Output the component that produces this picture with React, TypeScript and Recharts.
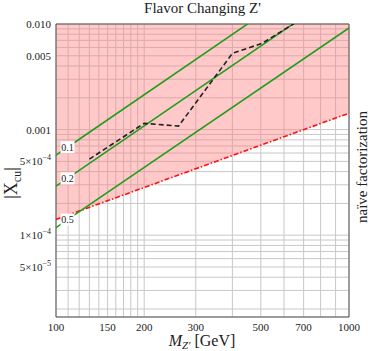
import {
  ComposedChart,
  Line,
  Area,
  XAxis,
  YAxis,
  CartesianGrid,
  ReferenceArea,
  Label,
} from 'recharts'

// grid / tick values (log axes)
const xTicks = [100, 110, 120, 130, 140, 150, 160, 170, 180, 190, 200, 300, 400, 500, 600, 700, 800, 900, 1000]
const xLabeled = [100, 150, 200, 300, 500, 700, 1000]
const yTicks = [
  2e-5, 3e-5, 4e-5, 5e-5, 6e-5, 7e-5, 8e-5, 9e-5,
  1e-4, 2e-4, 3e-4, 4e-4, 5e-4, 6e-4, 7e-4, 8e-4, 9e-4,
  0.001, 0.002, 0.003, 0.004, 0.005, 0.006, 0.007, 0.008, 0.009, 0.01,
]
const yPlain: Record<string, string> = { '0.01': '0.010', '0.005': '0.005', '0.001': '0.001' }
const ySci: Record<string, [string, string]> = { '0.0005': ['5', '−4'], '0.0001': ['1', '−4'], '0.00005': ['5', '−5'] }

const Y_MIN = 1.68e-5
const Y_MAX = 0.01

// naive factorization bound (red) and excluded band above it
const redBound = [
  { m: 100, x: 1.41e-4, band: [1.41e-4, 0.01] },
  { m: 1000, x: 1.43e-3, band: [1.43e-3, 0.01] },
]

// green contours, middle point is where the label sits
const green01 = [{ m: 100, x: 5.73e-4 }, { m: 109.5, x: 6.81e-4 }, { m: 1000, x: 0.0455 }]
const green02 = [{ m: 100, x: 2.91e-4 }, { m: 109.5, x: 3.455e-4 }, { m: 1000, x: 0.0231 }]
const green05 = [{ m: 100, x: 1.18e-4 }, { m: 109.5, x: 1.405e-4 }, { m: 1000, x: 0.00917 }]

// black dashed limit
const blackLimit = [
  { m: 130, x: 5.25e-4 },
  { m: 200, x: 1.146e-3 },
  { m: 262, x: 1.08e-3 },
  { m: 400, x: 5.27e-3 },
  { m: 505, x: 6.56e-3 },
  { m: 650, x: 0.0101 },
]

const FONT = '"Liberation Serif", "DejaVu Serif", serif'
const GREEN = '#1f9e1f'

function XTick(props: any) {
  const { x, y, payload } = props
  if (!xLabeled.includes(payload.value)) return null
  return (
    <text x={x} y={y + 12} textAnchor="middle" fontFamily={FONT} fontSize={11} fill="#222">
      {payload.value}
    </text>
  )
}

function YTick(props: any) {
  const { x, y, payload } = props
  const key = String(payload.value)
  if (yPlain[key]) {
    return (
      <text x={x - 3} y={y + 4} textAnchor="end" fontFamily={FONT} fontSize={11} fill="#222">
        {yPlain[key]}
      </text>
    )
  }
  const sci = ySci[key]
  if (!sci) return null
  return (
    <text x={x - 3} y={y + 4} textAnchor="end" fontFamily={FONT} fontSize={11} fill="#222">
      <tspan>{sci[0]}×10</tspan>
      <tspan dy={-5} fontSize={8}>{sci[1]}</tspan>
    </text>
  )
}

function contourLabel(text: string) {
  return (props: any) => {
    const { x, y, index } = props
    if (index !== 1) return null
    return (
      <g>
        <rect x={x - 7} y={y - 6} width={14} height={12} fill="#ffffff" stroke="none" />
        <text x={x} y={y + 3.5} textAnchor="middle" fontFamily={FONT} fontSize={10} fill="#222">
          {text}
        </text>
      </g>
    )
  }
}

function YLabel(props: any) {
  const cx = 17
  const cy = 183
  return (
    <text
      transform={`translate(${cx},${cy}) rotate(-90)`}
      textAnchor="middle"
      fontFamily={FONT}
      fontSize={18}
      fill="#222"
    >
      <tspan>|X</tspan>
      <tspan dy={4} fontSize={12}>cu</tspan>
      <tspan dy={-4}>|</tspan>
    </text>
  )
}

function RightLabel(props: any) {
  const cx = 367
  const cy = 167
  return (
    <text
      transform={`translate(${cx},${cy}) rotate(-90)`}
      textAnchor="middle"
      fontFamily={FONT}
      fontSize={15}
      fill="#222"
    >
      naïve factorization
    </text>
  )
}

function XLabel(props: any) {
  return (
    <text x={202} y={346} textAnchor="middle" fontFamily={FONT} fontSize={16} fill="#222">
      <tspan fontStyle="italic">M</tspan>
      <tspan dy={3} fontSize={11} fontStyle="italic">Z'</tspan>
      <tspan dy={-3}> [GeV]</tspan>
    </text>
  )
}

export default function App() {
  return (
    <div style={{ position: 'absolute', left: 0, top: 0, width: 374, height: 351, background: '#fff' }}>
      <div
        style={{
          position: 'absolute',
          left: 0,
          top: 0,
          width: 405,
          textAlign: 'center',
          fontFamily: FONT,
          fontSize: 15,
          lineHeight: '17px',
          color: '#222',
        }}
      >
        Flavor Changing Z'
      </div>
      <ComposedChart width={374} height={351} margin={{ top: 24, right: 0, bottom: 0, left: 0 }}>
        <CartesianGrid stroke="#c8c8c8" strokeWidth={1} />
        <XAxis
          dataKey="m"
          type="number"
          scale="log"
          domain={[100, 1000]}
          ticks={xTicks}
          tick={<XTick />}
          tickLine={false}
          axisLine={false}
          tickSize={0}
          height={34}
          allowDataOverflow
          interval={0}
        >
          <Label content={<XLabel />} />
        </XAxis>
        <YAxis
          type="number"
          scale="log"
          domain={[Y_MIN, Y_MAX]}
          ticks={yTicks}
          tick={<YTick />}
          tickLine={false}
          axisLine={false}
          tickSize={0}
          width={56}
          allowDataOverflow
          interval={0}
        >
          <Label content={<YLabel />} />
        </YAxis>
        <YAxis
          yAxisId="r"
          orientation="right"
          type="number"
          domain={[0, 1]}
          width={25}
          tick={false}
          axisLine={false}
          tickLine={false}
        >
          <Label content={<RightLabel />} />
        </YAxis>
        <Area
          data={redBound}
          dataKey="band"
          type="linear"
          stroke="none"
          fill="#ff7f7f"
          fillOpacity={0.42}
          isAnimationActive={false}
        />
        <Line
          data={redBound}
          dataKey="x"
          type="linear"
          stroke="#ff1010"
          strokeWidth={1.6}
          strokeDasharray="5 2 1.5 2"
          dot={false}
          isAnimationActive={false}
        />
        <Line data={green01} dataKey="x" type="linear" stroke={GREEN} strokeWidth={1.6} dot={false} label={contourLabel('0.1')} isAnimationActive={false} />
        <Line data={green02} dataKey="x" type="linear" stroke={GREEN} strokeWidth={1.6} dot={false} label={contourLabel('0.2')} isAnimationActive={false} />
        <Line data={green05} dataKey="x" type="linear" stroke={GREEN} strokeWidth={1.6} dot={false} label={contourLabel('0.5')} isAnimationActive={false} />
        <Line
          data={blackLimit}
          dataKey="x"
          type="linear"
          stroke="#222"
          strokeWidth={1.6}
          strokeDasharray="5 3"
          dot={false}
          isAnimationActive={false}
        />
        <ReferenceArea x1={100} x2={1000} y1={Y_MIN} y2={Y_MAX} fill="none" stroke="#555" strokeWidth={1} ifOverflow="visible" />
      </ComposedChart>
    </div>
  )
}
